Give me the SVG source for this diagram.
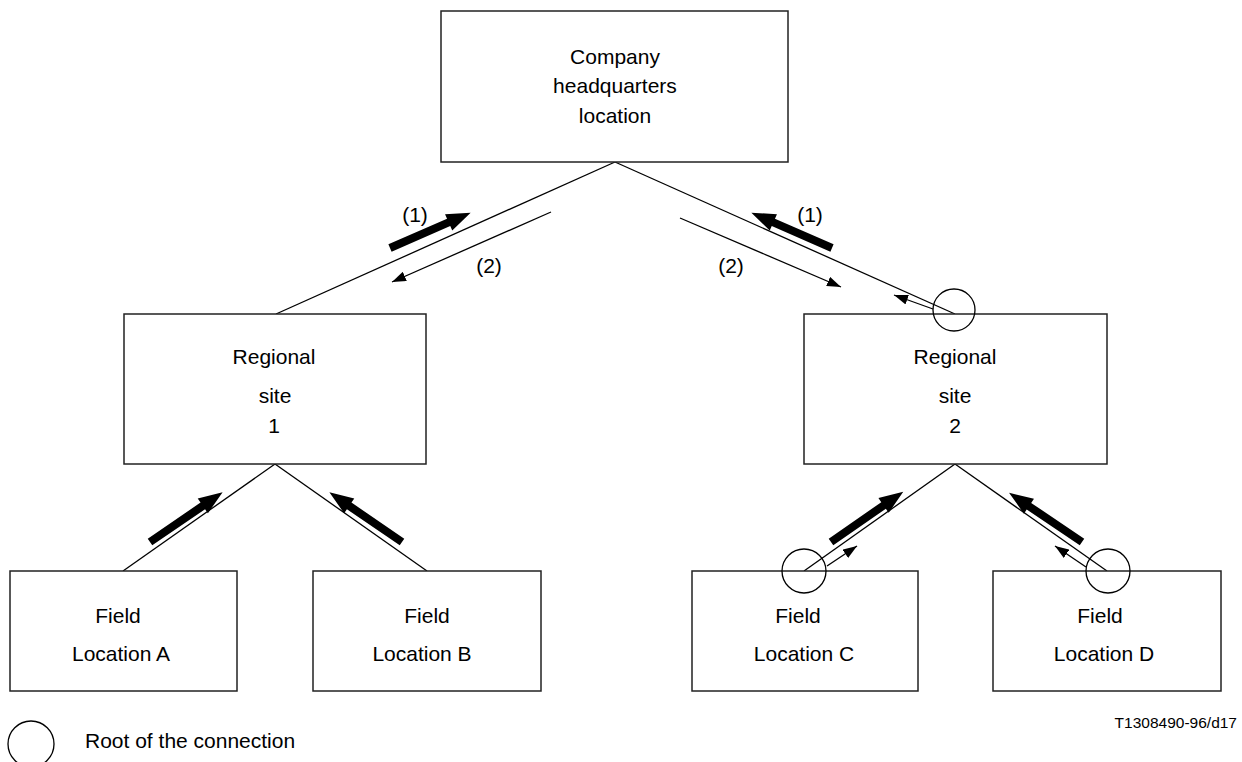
<svg xmlns="http://www.w3.org/2000/svg" xmlns:xlink="http://www.w3.org/1999/xlink" width="1242" height="762" viewBox="0 0 1242 762">
<style>
.box{fill:#fff;stroke:#222;stroke-width:1.5}
.ln{stroke:#000;stroke-width:1.3;fill:none}
.thin{stroke:#000;stroke-width:1.3;fill:none;marker-end:url(#ah)}
.root{fill:none;stroke:#000;stroke-width:1.3}
text{font-family:"Liberation Sans",Arial,sans-serif;font-size:21px;fill:#000;text-anchor:middle}
</style>
<defs>
<marker id="ah" markerWidth="14" markerHeight="10" refX="14" refY="5" orient="auto" markerUnits="userSpaceOnUse"><path d="M0,0 L14,5 L0,10 Z" fill="#000"/></marker>
<path id="thick" d="M0,-4 L64,-4 L64,-9 L88,0 L64,9 L64,4 L0,4 Z" fill="#000"/>
</defs>
<rect width="1242" height="762" fill="#fff"/>
<g id="connectors">
<line class="ln" x1="615" y1="162" x2="276" y2="314"/>
<line class="ln" x1="615" y1="162" x2="955" y2="314"/>
<line class="ln" x1="275" y1="464" x2="123" y2="571"/>
<line class="ln" x1="275" y1="464" x2="427" y2="571"/>
<line class="ln" x1="955" y1="464" x2="804" y2="571"/>
<line class="ln" x1="955" y1="464" x2="1107" y2="571"/>
<use href="#thick" transform="translate(390,248) rotate(-23.6)"/>
<use href="#thick" transform="translate(832,248) rotate(-156.4)"/>
<use href="#thick" transform="translate(150,542) rotate(-34.4)"/>
<use href="#thick" transform="translate(402,542) rotate(-145.6)"/>
<use href="#thick" transform="translate(831,542) rotate(-34.8)"/>
<use href="#thick" transform="translate(1082,542) rotate(-146)"/>
<line class="thin" x1="551" y1="212" x2="392" y2="282"/>
<line class="thin" x1="680" y1="218" x2="841" y2="287"/>
<line class="thin" x1="933" y1="309" x2="894" y2="295"/>
<line class="thin" x1="827" y1="566" x2="857" y2="546"/>
<line class="thin" x1="1086" y1="567" x2="1055" y2="546"/>
<text x="415" y="222">(1)</text>
<text x="489" y="273">(2)</text>
<text x="810" y="222">(1)</text>
<text x="731" y="273">(2)</text>
</g>
<g id="hq">
<rect class="box" x="441" y="11" width="347" height="151"/>
<text x="615" y="64">Company</text>
<text x="615" y="93">headquarters</text>
<text x="615" y="123">location</text>
</g>
<g id="regional1">
<rect class="box" x="124" y="314" width="302" height="150"/>
<text x="274" y="364">Regional</text>
<text x="275" y="403">site</text>
<text x="274" y="433">1</text>
</g>
<g id="regional2">
<rect class="box" x="804" y="314" width="303" height="150"/>
<text x="955" y="364">Regional</text>
<text x="955" y="403">site</text>
<text x="955" y="433">2</text>
</g>
<g id="fieldA">
<rect class="box" x="10" y="571" width="227" height="120"/>
<text x="118" y="623">Field</text>
<text x="121" y="661">Location A</text>
</g>
<g id="fieldB">
<rect class="box" x="313" y="571" width="228" height="120"/>
<text x="427" y="623">Field</text>
<text x="422" y="661">Location B</text>
</g>
<g id="fieldC">
<rect class="box" x="692" y="571" width="226" height="120"/>
<text x="798" y="623">Field</text>
<text x="804" y="661">Location C</text>
</g>
<g id="fieldD">
<rect class="box" x="993" y="571" width="228" height="120"/>
<text x="1100" y="623">Field</text>
<text x="1104" y="661">Location D</text>
</g>
<g id="roots">
<circle class="root" cx="954" cy="310" r="21"/>
<circle class="root" cx="804" cy="571" r="22"/>
<circle class="root" cx="1108" cy="571" r="22"/>
</g>
<g id="legend">
<circle class="root" cx="31" cy="744" r="23"/>
<text x="85" y="748" style="text-anchor:start">Root of the connection</text>
<text x="1237" y="728" style="text-anchor:end;font-size:15.5px">T1308490-96/d17</text>
</g>
</svg>
